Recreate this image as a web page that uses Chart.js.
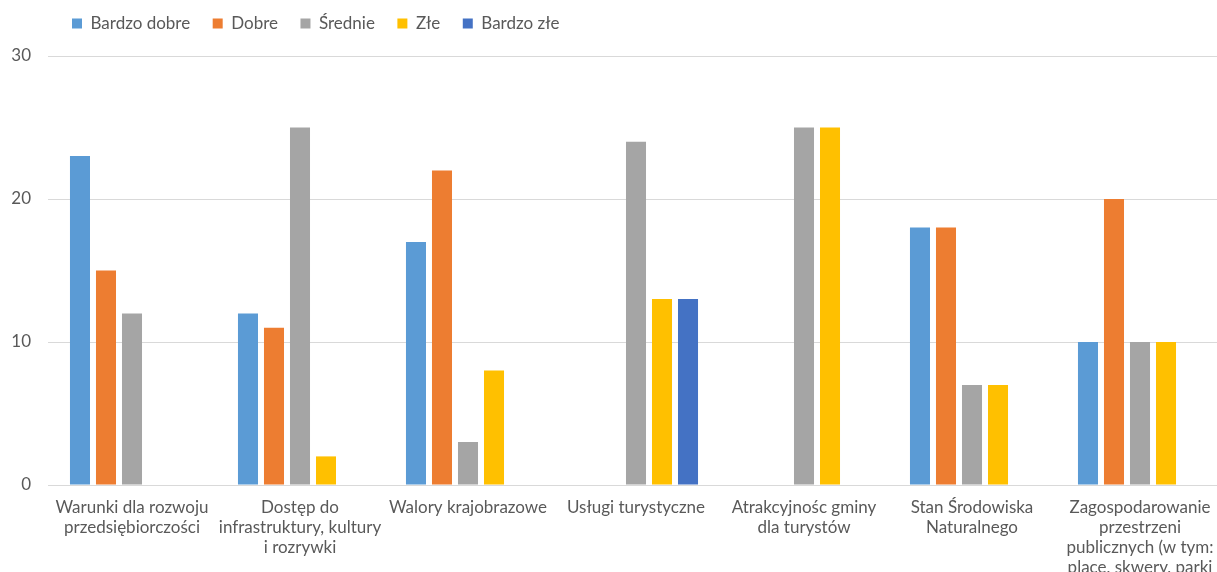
<!DOCTYPE html>
<html>
<head>
<meta charset="utf-8">
<script src="https://cdn.jsdelivr.net/npm/chart.js@4"></script>
<style>
  html, body { margin: 0; padding: 0; background: #fff; overflow: hidden; }
</style>
</head>
<body>
<canvas id="chart" width="1224" height="590"></canvas>
<script>
const categories = [
  ["Warunki dla rozwoju", "przedsiębiorczości"],
  ["Dostęp do", "infrastruktury, kultury", "i rozrywki"],
  "Walory krajobrazowe",
  "Usługi turystyczne",
  ["Atrakcyjnośc gminy", "dla turystów"],
  ["Stan Środowiska", "Naturalnego"],
  ["Zagospodarowanie", "przestrzeni", "publicznych (w tym:", "place, skwery, parki"]
];
const seriesNames = ["Bardzo dobre", "Dobre", "Średnie", "Złe", "Bardzo złe"];
const seriesColors = ["#5B9BD5", "#ED7D31", "#A5A5A5", "#FFC000", "#4472C4"];
const bardzoDobre = [23, 12, 17, 0, 0, 18, 10];
const dobre       = [15, 11, 22, 0, 0, 18, 20];
const srednie     = [12, 25, 3, 24, 25, 7, 10];
const zle         = [0, 2, 8, 13, 25, 7, 10];
const bardzoZle   = [0, 0, 0, 13, 0, 0, 0];
const yTicks = [0, 10, 20, 30];

const fontFamily = 'Lato, "Open Sans", sans-serif';
const textColor = '#595959';
const gridColor = '#d9d9d9';

const values = [bardzoDobre, dobre, srednie, zle, bardzoZle];

// nudge the legend to where Excel puts it
const legendShift = {
  id: 'legendShift',
  afterLayout(chart) {
    chart.legend.left = 49.5;
    chart.legend.top = chart.legend.top - 14;
  }
};

new Chart(document.getElementById('chart'), {
  type: 'bar',
  data: {
    labels: categories,
    datasets: values.map((v, i) => ({
      label: seriesNames[i],
      data: v,
      backgroundColor: seriesColors[i],
      borderWidth: 0,
      barPercentage: 0.77,
      categoryPercentage: 0.774
    }))
  },
  plugins: [legendShift],
  options: {
    responsive: false,
    animation: false,
    layout: { padding: 0 },
    plugins: {
      legend: {
        position: 'top',
        align: 'start',
        maxHeight: 50,
        labels: {
          boxWidth: 10,
          boxHeight: 10,
          padding: 22.5,
          color: textColor,
          font: { family: fontFamily, size: 17 }
        }
      },
      tooltip: { enabled: false }
    },
    scales: {
      x: {
        grid: { display: false, drawTicks: false },
        border: { display: false },
        ticks: {
          color: textColor,
          padding: 12,
          maxRotation: 0,
          autoSkip: false,
          font: { family: fontFamily, size: 17, lineHeight: 1.18 }
        },
        afterFit: scale => {
          scale.height = 105;
          scale.paddingLeft = 0;
          scale.paddingRight = 0;
        }
      },
      y: {
        min: 0,
        max: 30,
        afterBuildTicks: scale => {
          scale.ticks = yTicks.map(v => ({ value: v }));
        },
        grid: { color: gridColor, lineWidth: 1, drawTicks: false },
        border: { display: false },
        ticks: {
          color: textColor,
          padding: 17,
          font: { family: fontFamily, size: 17 }
        },
        afterFit: scale => {
          scale.width = 48;
          scale.paddingTop = 56;
        }
      }
    }
  }
});
</script>
</body>
</html>
